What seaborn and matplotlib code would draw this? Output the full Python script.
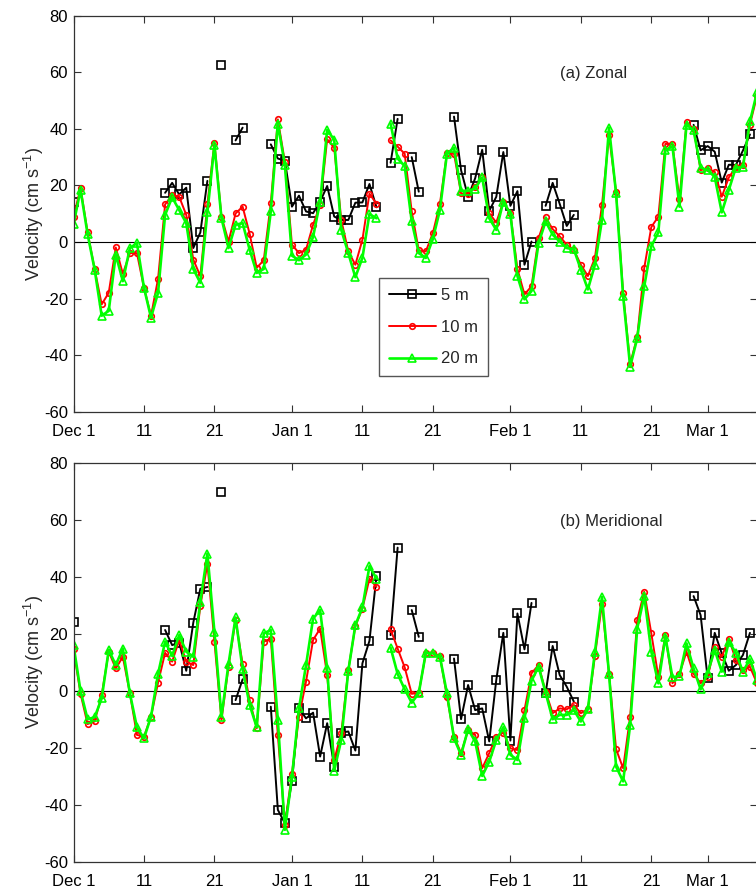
import numpy as np
import pandas as pd
import matplotlib
matplotlib.use("Agg")
import matplotlib.pyplot as plt
import seaborn as sns
from matplotlib.lines import Line2D

nan = np.nan

# ---- data (day index 0 = Dec 1) ----
days = list(range(98))
tick_days = [0, 10, 20, 31, 41, 51, 62, 72, 82, 90]
tick_labels = ["Dec 1", "11", "21", "Jan 1", "11", "21", "Feb 1", "11", "21", "Mar 1"]
yticks = [-60, -40, -20, 0, 20, 40, 60, 80]
depth_labels = ["5 m", "10 m", "20 m"]
panel_titles = ["(a) Zonal", "(b) Meridional"]

# Zonal velocity (cm/s)
u5 = [14.3] + [nan] * 12 + [17.4, 20.9, 16.8, 19.2, -2.1, 3.4, 21.6] + [nan, 62.6, nan, 35.9, 40.4, nan, nan, nan] + \
     [34.5, 29.5, 28.7, 12.5, 16.4, 10.8, 10.2, 14.3, 19.8, 9.0, 7.8, 7.8, 13.9, 14.0, 20.5, 12.3] + \
     [nan, 28.0, 43.5, nan, 30.0, 17.8, nan, nan, nan, nan] + \
     [44.3, 25.4, 16.0, 22.5, 32.6, 11.0, 16.0, 31.8, 12.8, 18.0, -8.0, 0.2] + \
     [nan, 12.8, 20.9, 13.5, 5.7, 9.6] + [nan] * 16 + \
     [41.4, 32.4, 33.9, 31.9, 21.0, 27.3, 27.2, 32.3, 38.0, nan]

u10 = [8.7, 19.2, 3.4, -9.5, -22.0, -17.9, -1.9, -11.2, -3.9, -3.9,
       -16.1, -26.0, -13.0, 13.3, 16.6, 16.0, 9.6, -6.2, -12.0, 13.3,
       35.1, 9.0, 0.2, 10.1, 12.5, 2.9, -9.1, -6.4, 13.7, 43.3,
       28.3, -0.9, -3.9, -2.7, 6.1, 13.1, 36.3, 33.3, 7.8, -3.3,
       -8.0, 0.8, 17.1, 13.5, nan, 35.9, 33.7, 31.2, 10.8, -2.9,
       -3.3, 3.2, 13.5, 31.5, 31.2, 17.2, 17.0, 19.5, 22.8, 10.2,
       6.9, 14.3, 10.2, -9.5, -18.5, -15.6, 1.4, 8.7, 4.6, 2.0,
       -0.9, -2.7, -8.0, -12.0, -5.6, 13.1, 37.7, 17.8, -17.9, -43.0,
       -33.5, -9.1, 5.3, 9.0, 34.7, 34.5, 15.1, 42.3, 40.0, 25.4,
       26.0, 24.8, 16.0, 22.8, 26.5, 27.1, 41.5, 51.7]

u20 = [6.3, 18.4, 2.8, -9.7, -26.0, -24.3, -4.4, -13.8, -2.1, -0.4,
       -16.1, -26.7, -17.9, 9.6, 15.8, 11.3, 6.7, -9.5, -14.4, 10.5,
       34.2, 8.4, -2.1, 6.1, 6.7, -2.7, -10.9, -9.5, 10.8, 41.8,
       27.1, -4.8, -6.4, -4.4, 1.8, 14.3, 39.6, 36.1, 4.3, -3.9,
       -12.4, -5.6, 9.9, 8.4, nan, 41.8, 29.5, 26.8, 7.3, -3.9,
       -5.6, 1.1, 11.3, 31.2, 33.3, 18.1, 18.1, 18.9, 22.8, 8.4,
       4.3, 14.3, 9.9, -12.0, -20.2, -17.3, -0.4, 7.3, 2.6, 0.2,
       -2.1, -2.5, -9.7, -16.7, -8.0, 7.8, 40.4, 17.2, -19.1, -44.0,
       -34.0, -15.6, -1.5, 3.4, 32.4, 33.8, 12.5, 41.5, 39.4, 26.3,
       25.4, 23.0, 10.5, 18.4, 26.3, 26.5, 42.6, 52.9]

# Meridional velocity (cm/s)
v5 = [24.3] + [nan] * 12 + [21.4, 16.1, 17.0, 7.1, 24.0, 35.9, 36.5] + [nan, 70.0, nan, -3.2, 4.1, nan, nan, nan] + \
     [-5.5, -41.7, -46.4, -31.7, -6.1, -9.6, -7.6, -23.0, -11.3, -26.5, -14.6, -14.2, -20.9, 9.7, 17.6, 40.3] + \
     [nan, 19.6, 50.3, nan, 28.4, 19.0, nan, nan, nan, nan] + \
     [11.4, -9.9, 2.1, -6.7, -6.1, -17.7, 3.9, 20.4, -17.4, 27.2, 14.6, 30.9] + \
     [nan, -0.8, 15.8, 5.6, 1.5, -3.7] + [nan] * 16 + \
     [33.3, 26.6, 4.4, 20.4, 13.2, 7.1, 9.1, 12.6, 20.4, nan]

v10 = [14.6, -1.0, -11.6, -10.7, -1.4, 13.8, 7.9, 12.0, -0.8, -15.4,
       -16.0, -9.0, 2.9, 13.4, 10.3, 17.9, 10.3, 9.1, 29.8, 44.7,
       17.3, -10.2, 8.5, 24.9, 9.5, -3.2, -13.1, 17.3, 18.4, -15.4,
       -47.0, -29.0, -9.0, 3.3, 17.9, 21.9, 5.6, -24.2, -14.8, 7.4,
       22.8, 28.9, 39.4, 36.5, nan, 21.6, 14.9, 8.3, -1.0, -0.6,
       13.2, 13.4, 12.3, -2.0, -16.0, -21.8, -13.7, -15.4, -27.1, -21.8,
       -16.0, -14.6, -20.1, -20.7, -6.7, 6.2, 9.1, -0.2, -7.8, -6.1,
       -6.4, -4.9, -7.8, -6.4, 12.3, 30.7, 6.0, -20.4, -27.1, -9.0,
       24.9, 34.8, 20.2, 5.0, 19.6, 2.7, 6.0, 13.8, 6.0, 2.7,
       5.0, 15.5, 12.0, 18.4, 10.9, 7.4, 8.5, 2.7]

v20 = [16.1, 0.0, -9.9, -9.2, -2.6, 14.4, 9.1, 14.9, -0.8, -12.7,
       -16.6, -9.0, 6.0, 17.3, 12.3, 19.6, 13.8, 12.0, 31.3, 48.2,
       20.8, -9.0, 9.5, 25.8, 7.6, -4.9, -12.7, 20.2, 21.4, -10.2,
       -48.7, -30.2, -6.1, 9.1, 25.4, 28.4, 7.9, -27.9, -17.2, 7.1,
       23.1, 29.3, 43.8, 39.4, nan, 15.2, 6.0, 0.6, -4.1, -0.8,
       13.4, 13.2, 12.0, -0.8, -16.6, -22.4, -13.4, -17.7, -29.8, -24.8,
       -17.2, -12.7, -22.4, -24.2, -9.6, 3.6, 8.5, -0.6, -9.9, -8.4,
       -8.4, -6.7, -10.7, -6.4, 13.8, 33.0, 6.0, -26.5, -31.7, -11.9,
       21.9, 33.3, 13.8, 2.7, 19.0, 4.8, 5.3, 16.7, 7.9, 0.6,
       6.4, 14.4, 6.8, 17.3, 13.4, 6.8, 11.1, 3.9]

for arr in (u5, u10, u20, v5, v10, v20):
    assert len(arr) == len(days), len(arr)

# ---- style ----
sns.set_style("ticks")
plt.rcParams["font.family"] = ["Liberation Sans", "DejaVu Sans"]
plt.rcParams["mathtext.fontset"] = "custom"
plt.rcParams["mathtext.rm"] = "Liberation Sans"
plt.rcParams["mathtext.it"] = "Liberation Sans"
plt.rcParams["axes.unicode_minus"] = False
FS = 12
EDGE = "#333333"

series_styles = [
    dict(color="black", marker="s", ms=5.2, lw=1.4),
    dict(color="#ff0000", marker="o", ms=4.0, lw=1.4),
    dict(color="#00ff00", marker="^", ms=5.8, lw=1.9),
]

fig = plt.figure(figsize=(7.56, 8.92), dpi=100)
W, H = 756.0, 892.0
ax_top = fig.add_axes([73.5 / W, 1 - 412 / H, (757 - 73.5) / W, (412 - 15.5) / H])
ax_bot = fig.add_axes([73.5 / W, 1 - 862 / H, (757 - 73.5) / W, (862 - 463) / H])


def segments(vals):
    v = np.asarray(vals, float)
    return np.cumsum(np.isnan(v))


def draw_panel(ax, data_list, title):
    ax.axhline(0, color="black", lw=0.8, zorder=1)
    for vals, st in zip(data_list, series_styles):
        df = pd.DataFrame({"day": days, "val": vals, "seg": segments(vals)}).dropna()
        sns.lineplot(data=df, x="day", y="val", units="seg", estimator=None, ax=ax,
                     color=st["color"], lw=st["lw"], marker=st["marker"],
                     markersize=st["ms"], markerfacecolor="none",
                     markeredgecolor=st["color"], markeredgewidth=1.2,
                     legend=False, sort=True)
    ax.set_xlim(0, 97)
    ax.set_ylim(-60, 80)
    ax.set_xticks(tick_days)
    ax.set_xticklabels(tick_labels)
    ax.set_yticks(yticks)
    ax.set_xlabel("")
    ax.set_ylabel("Velocity (cm s$^{-1}$)", fontsize=13, labelpad=-1.5)
    ax.tick_params(axis="both", direction="in", length=5, width=0.8, color=EDGE,
                   labelsize=FS, top=True, right=True, labelcolor="black")
    ax.tick_params(axis="x", pad=9)
    ax.tick_params(axis="y", pad=4)
    for sp in ax.spines.values():
        sp.set_visible(True)
        sp.set_color(EDGE)
        sp.set_linewidth(0.9)
    ax.text(69, 59.5, title, ha="left", va="center", fontsize=FS)


draw_panel(ax_top, [u5, u10, u20], panel_titles[0])
draw_panel(ax_bot, [v5, v10, v20], panel_titles[1])

handles = [Line2D([0], [0], color=st["color"], lw=st["lw"], marker=st["marker"],
                  markersize=st["ms"], markerfacecolor="none",
                  markeredgecolor=st["color"], markeredgewidth=1.2)
           for st in series_styles]
leg = ax_top.legend(handles, depth_labels, loc="upper left",
                    bbox_to_anchor=((379 - 73.5) / 683.5, 1 - (278 - 15.5) / 396.5),
                    borderaxespad=0, fontsize=FS, handlelength=2.8, handletextpad=0.3,
                    labelspacing=1.0, borderpad=0.6, fancybox=False, framealpha=1,
                    edgecolor="#555555", numpoints=1)
leg.get_frame().set_linewidth(1.0)

fig.savefig("out.png", dpi=100)
